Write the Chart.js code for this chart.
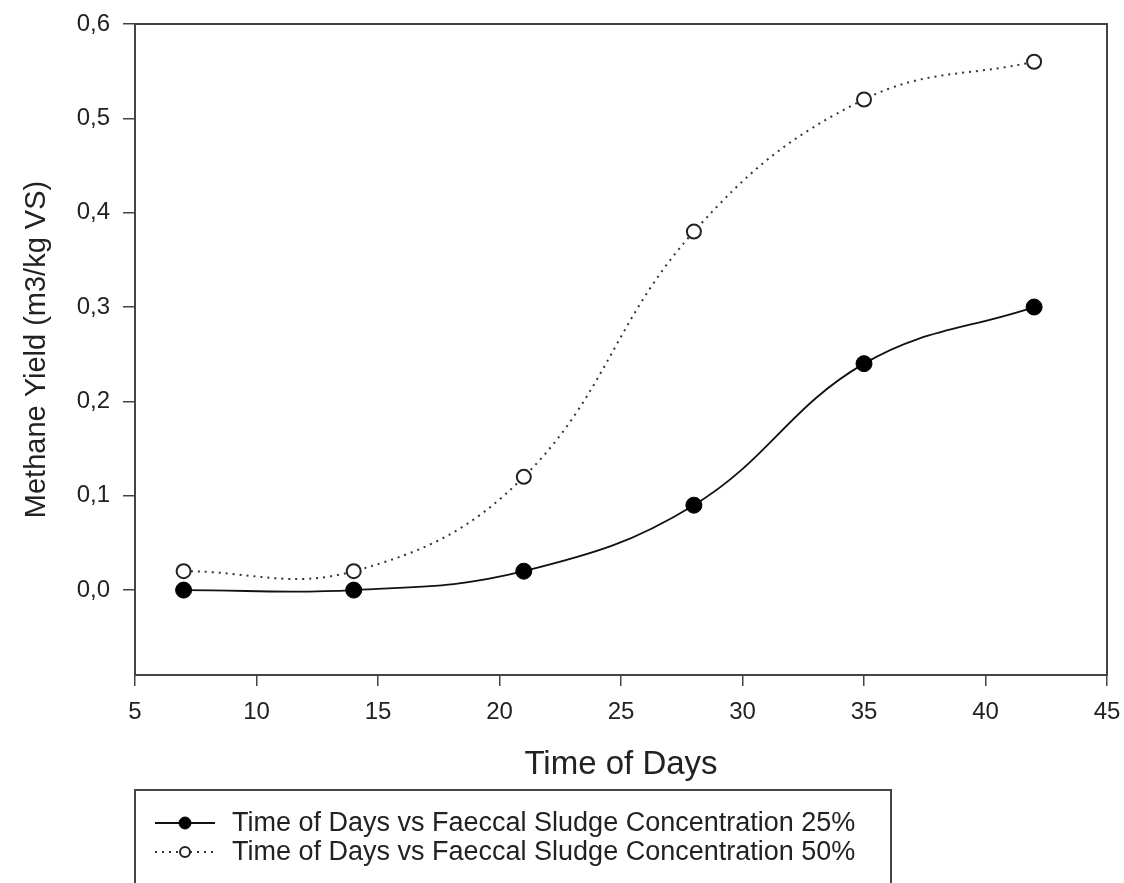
<!DOCTYPE html>
<html>
<head>
<meta charset="utf-8">
<script src="https://cdn.jsdelivr.net/npm/chart.js@4/dist/chart.umd.min.js"></script>
<style>
  html, body { margin: 0; padding: 0; background: #fff; }
  #wrap { width: 1124px; height: 883px; }
</style>
</head>
<body>
<div id="wrap"><canvas id="grafico" width="1124" height="883"></canvas></div>
<script>
const dias = [7, 14, 21, 28, 35, 42];
const lodo25 = [0.00, 0.00, 0.02, 0.09, 0.24, 0.30];
const lodo50 = [0.02, 0.02, 0.12, 0.38, 0.52, 0.56];
const etiquetas = ['Time of Days vs Faeccal Sludge Concentration 25%', 'Time of Days vs Faeccal Sludge Concentration 50%'];

const fuente = 'Arial, "Liberation Sans", sans-serif';
const gris = '#444';

// marco del área de datos + leyenda con caja
const marcoYLeyenda = {
    id: 'marcoYLeyenda',
    afterDraw(chart) {
        const ctx = chart.ctx;
        const a = chart.chartArea;
        ctx.save();
        ctx.strokeStyle = gris;
        ctx.lineWidth = 2;
        ctx.strokeRect(a.left, a.top, a.right - a.left, a.bottom - a.top);

        // leyenda
        ctx.strokeRect(135, 790, 756, 200);
        const filas = [823, 852];
        chart.data.datasets.forEach((ds, i) => {
            const y = filas[i];
            ctx.strokeStyle = ds.borderColor;
            ctx.lineWidth = ds.borderWidth;
            ctx.setLineDash(ds.borderDash || []);
            ctx.beginPath();
            ctx.moveTo(155, y);
            ctx.lineTo(215, y);
            ctx.stroke();
            ctx.setLineDash([]);
            ctx.beginPath();
            ctx.arc(185, y, ds.pointRadius - 2, 0, Math.PI * 2);
            ctx.fillStyle = ds.pointBackgroundColor;
            ctx.fill();
            ctx.lineWidth = ds.pointBorderWidth;
            ctx.strokeStyle = ds.pointBorderColor;
            ctx.stroke();
            ctx.fillStyle = '#222';
            ctx.font = '27px ' + fuente;
            ctx.textBaseline = 'middle';
            ctx.fillText(etiquetas[i], 232, y + 1);
        });
        ctx.restore();
    }
};

new Chart(document.getElementById('grafico'), {
    type: 'line',
    data: {
        datasets: [
            {
                label: etiquetas[0],
                data: dias.map((d, i) => ({ x: d, y: lodo25[i] })),
                borderColor: '#111',
                borderWidth: 1.8,
                tension: 0.4,
                pointRadius: 8,
                pointBackgroundColor: '#000',
                pointBorderColor: '#000',
                pointBorderWidth: 1
            },
            {
                label: etiquetas[1],
                data: dias.map((d, i) => ({ x: d, y: lodo50[i] })),
                borderColor: '#333',
                borderWidth: 2,
                borderDash: [2, 5],
                tension: 0.4,
                pointRadius: 7,
                pointBackgroundColor: '#fff',
                pointBorderColor: '#222',
                pointBorderWidth: 2
            }
        ]
    },
    options: {
        responsive: false,
        animation: false,
        layout: { padding: { left: 0, right: 17, top: 24, bottom: 0 } },
        plugins: {
            legend: { display: false },
            tooltip: { enabled: false }
        },
        scales: {
            x: {
                type: 'linear',
                min: 5,
                max: 45,
                afterFit: s => { s.height = 208; s.paddingRight = 0; s.paddingLeft = 0; },
                ticks: { stepSize: 5, color: '#222', padding: 12, font: { family: fuente, size: 24 } },
                grid: { drawOnChartArea: false, drawTicks: true, tickLength: 11, color: gris, lineWidth: 1.5 },
                border: { display: false },
                title: {
                    display: true,
                    text: 'Time of Days',
                    color: '#222',
                    font: { family: fuente, size: 33 },
                    padding: { top: 0, bottom: 98 }
                }
            },
            y: {
                min: -0.09,
                max: 0.6,
                afterFit: s => { s.width = 135; s.paddingTop = 0; s.paddingBottom = 0; },
                afterBuildTicks: s => { s.ticks = s.ticks.filter(t => t.value > -0.001); },
                ticks: {
                    stepSize: 0.1,
                    color: '#222',
                    padding: 13,
                    font: { family: fuente, size: 24 },
                    callback: v => v.toFixed(1).replace('.', ',')
                },
                grid: { drawOnChartArea: false, drawTicks: true, tickLength: 12, color: gris, lineWidth: 1.5 },
                border: { display: false },
                title: {
                    display: true,
                    text: 'Methane Yield (m3/kg VS)',
                    color: '#222',
                    font: { family: fuente, size: 29 },
                    padding: { top: 20, bottom: 0 }
                }
            }
        }
    },
    plugins: [marcoYLeyenda]
});
</script>
</body>
</html>
